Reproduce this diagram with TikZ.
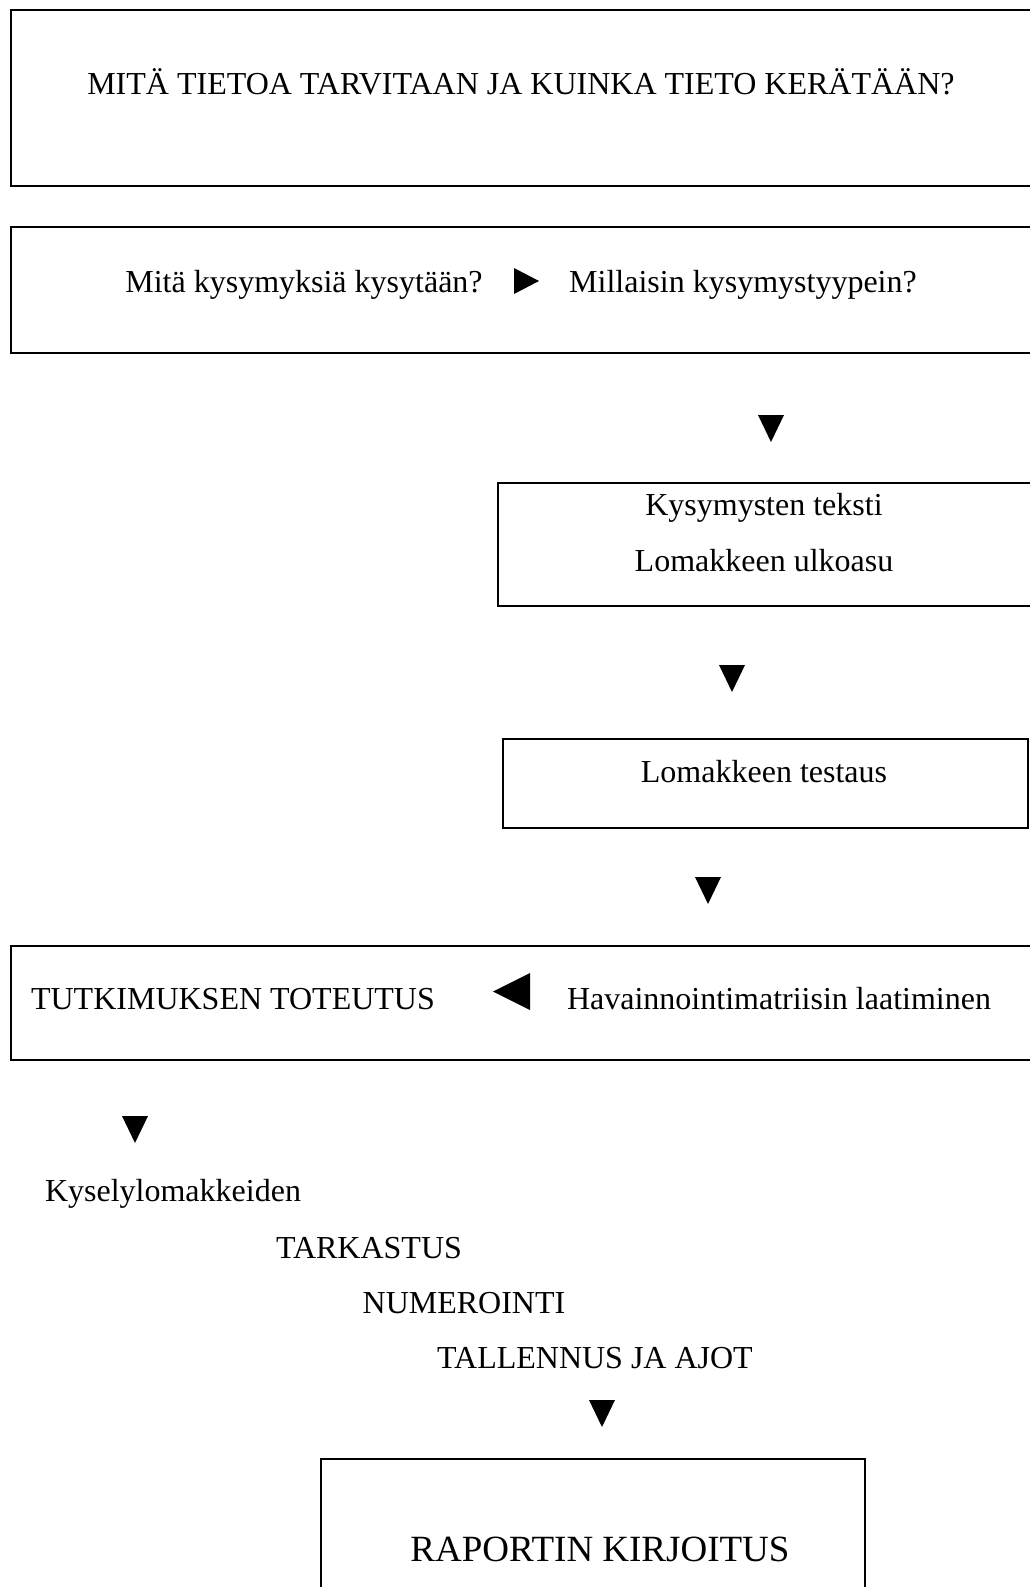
\documentclass[tikz,border=0pt]{standalone}
\usepackage{fontspec}
\setmainfont{Liberation Serif}
\begin{document}
\begin{tikzpicture}[x=1pt,y=-1pt,
  boxst/.style={draw, line width=2pt, inner sep=0pt, anchor=north west},
  lbl/.style={anchor=base, inner sep=0pt, font=\fontsize{32}{38}\selectfont},
  big/.style={anchor=base, inner sep=0pt, font=\fontsize{37}{44}\selectfont}]
\useasboundingbox (0,0) rectangle (1030,1587);
\clip (0,0) rectangle (1030,1587);
% boxes
\node[boxst, minimum width=1040pt, minimum height=176pt] (b1) at (10,9) {};
\node[boxst, minimum width=1040pt, minimum height=126pt] (b2) at (10,226) {};
\node[boxst, minimum width=543pt, minimum height=123pt] (b3) at (497,482) {};
\node[boxst, minimum width=525pt, minimum height=89pt] (b4) at (502,738) {};
\node[boxst, minimum width=1040pt, minimum height=114pt] (b5) at (10,945) {};
\node[boxst, minimum width=544pt, minimum height=150pt] (b6) at (320,1458) {};
% texts
\node[lbl] (t1) at (521,95) {MITÄ TIETOA TARVITAAN JA KUINKA TIETO KERÄTÄÄN?};
\node[lbl] (t2a) at (304,292) {Mitä kysymyksiä kysytään?};
\node[lbl] (t2b) at (743,292) {Millaisin kysymystyypein?};
\node[lbl] (t3a) at (764,515) {Kysymysten teksti};
\node[lbl] (t3b) at (764,571) {Lomakkeen ulkoasu};
\node[lbl] (t4) at (764,782) {Lomakkeen testaus};
\node[lbl] (t5a) at (233,1009) {TUTKIMUKSEN TOTEUTUS};
\node[lbl] (t5b) at (779,1009) {Havainnointimatriisin laatiminen};
\node[lbl] (k1) at (173,1201) {Kyselylomakkeiden};
\node[lbl] (k2) at (369,1258) {TARKASTUS};
\node[lbl] (k3) at (464,1313) {NUMEROINTI};
\node[lbl] (k4) at (595,1368) {TALLENNUS JA AJOT};
\node[big] (t6) at (600,1561) {RAPORTIN KIRJOITUS};
% triangles
\coordinate (r1) at (514,268);
\fill (r1) -- ++(25,13) -- ++(-25,13) -- cycle;
\coordinate (l1) at (530,973);
\fill (l1) -- ++(-37,18.5) -- ++(37,18.5) -- cycle;
\foreach \n/\x/\y in {d1/771/415, d2/732/665, d3/708/877, d4/135/1116, d5/602/1400}{
  \coordinate (\n) at (\x,\y);
  \fill (\n) ++(-13,0) -- ++(26,0) -- ++(-13,27) -- cycle;
}
\end{tikzpicture}
\end{document}
